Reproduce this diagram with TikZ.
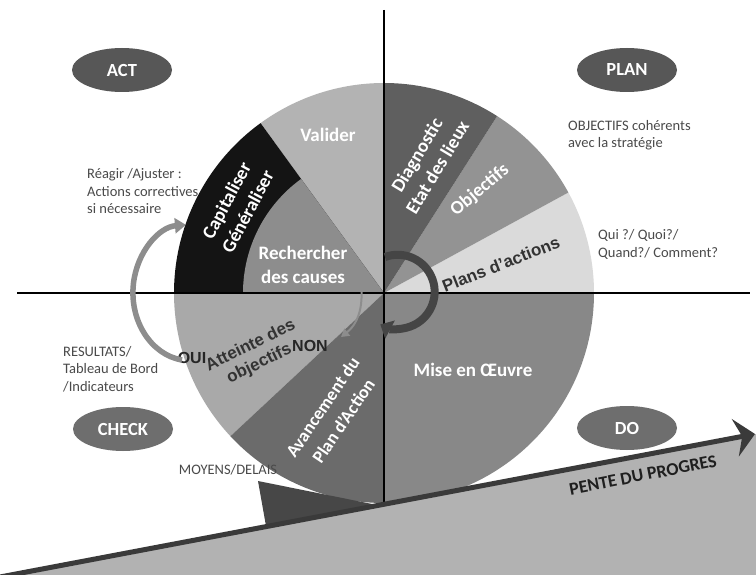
\documentclass[tikz,border=0pt]{standalone}
\usepackage{fontspec}
\setmainfont{Carlito}
\newfontfamily\arialf{Liberation Sans}
\usetikzlibrary{arrows.meta,shapes.geometric}
\definecolor{cPlans}{HTML}{DADADA}
\definecolor{cObj}{HTML}{939393}
\definecolor{cDiag}{HTML}{5F5F5F}
\definecolor{cVal}{HTML}{B3B3B3}
\definecolor{cCap}{HTML}{141414}
\definecolor{cRech}{HTML}{8D8D8D}
\definecolor{cAtt}{HTML}{A9A9A9}
\definecolor{cAvan}{HTML}{6B6B6B}
\definecolor{cMise}{HTML}{888888}
\definecolor{cRamp}{HTML}{B2B2B2}
\definecolor{cRampLine}{HTML}{3A3A3A}
\definecolor{cWedge}{HTML}{474747}
\definecolor{cPhaseA}{HTML}{575757}
\definecolor{cPhaseB}{HTML}{6E6E6E}
\definecolor{cNote}{HTML}{4A4A4A}
\definecolor{cDarkTxt}{HTML}{333333}
\definecolor{cArcGray}{HTML}{8D8D8D}
\definecolor{cArcDark}{HTML}{454545}
\begin{document}
\begin{tikzpicture}[x=1pt,y=-1pt,
  wlabel/.style={text=white,font=\bfseries\fontsize{19}{24}\selectfont,align=center,inner sep=0pt},
  note/.style={text=cNote,font=\fontsize{14.5}{17.5}\selectfont,align=left,anchor=west,inner sep=0pt},
  phase/.style={ellipse,minimum width=100pt,minimum height=44pt,text=white,font=\bfseries\fontsize{18.5}{20}\selectfont,inner sep=0pt},
  darktxt/.style={font=\arialf\bfseries\fontsize{17}{20}\selectfont,align=center,inner sep=0pt,text=cDarkTxt},
  axis/.style={line width=2.5pt,black},
]
\useasboundingbox (0,0) rectangle (756,575);
\fill[white] (0,0) rectangle (756,575);
\coordinate (O) at (384,293);
% ramp background
\coordinate (rampL) at (0,577);
\coordinate (rampR) at (755,434);
\fill[cRamp] (rampL) -- (756,434) -- (756,575) -- (0,575) -- cycle;
% wheel
\begin{scope}
\clip (0,0) -- (756,0) -- (756,434) -- (0,577) -- cycle;
\fill[cPlans] (O) -- ++(0:210) arc[start angle=0,end angle=-28.6,radius=210] -- cycle;
\fill[cObj] (O) -- ++(-28.6:210) arc[start angle=-28.6,end angle=-57.4,radius=210] -- cycle;
\fill[cDiag] (O) -- ++(-57.4:210) arc[start angle=-57.4,end angle=-90,radius=210] -- cycle;
\fill[cVal] (O) -- ++(-90:210) arc[start angle=-90,end angle=-126,radius=210] -- cycle;
\fill[cCap] (O) -- ++(-126:210) arc[start angle=-126,end angle=-180,radius=210] -- cycle;
\fill[cRech] (O) -- ++(-126:141) arc[start angle=-126,end angle=-180,radius=141] -- cycle;
\fill[cAtt] (O) -- ++(-180:210) arc[start angle=-180,end angle=-223,radius=210] -- cycle;
\fill[cAvan] (O) -- ++(-223:210) arc[start angle=-223,end angle=-270,radius=210] -- cycle;
\fill[cMise] (O) -- ++(90:210) arc[start angle=90,end angle=0,radius=210] -- cycle;
\end{scope}
% wedge under the wheel
\fill[cWedge] (258,481) -- (266,526) -- (377,505) -- cycle;
% axes
\coordinate (vTop) at (384,10);
\coordinate (vBot) at (384,504);
\coordinate (hL) at (17,293);
\coordinate (hR) at (750,293);
\draw[axis] (vTop) -- (vBot);
\draw[axis] (hL) -- (hR);
% ramp line with arrow
\draw[cRampLine,line width=5pt,-{Stealth[length=20pt,width=38pt,inset=7pt]}] (rampL) -- (rampR);
% phase ellipses
\node[phase,fill=cPhaseA] (act) at (122,70) {ACT};
\node[phase,fill=cPhaseA] (plan) at (627,70) {PLAN};
\node[phase,fill=cPhaseB] (check) at (123,429) {CHECK};
\node[phase,fill=cPhaseB] (do) at (627,428) {DO};
% wheel labels
\node[wlabel] (valider) at (328,135) {Valider};
\node[wlabel,rotate=62] (capit) at (237,206) {Capitaliser\\Généraliser};
\node[wlabel] (rech) at (303,265) {Rechercher\\des causes};
\node[wlabel,rotate=59] (diag) at (427,161) {Diagnostic\\Etat des lieux};
\node[wlabel,rotate=40] (objectifs) at (480,190) {Objectifs};
\node[wlabel] (mise) at (473,370) {Mise en Œuvre};
\node[wlabel,rotate=56,font=\bfseries\fontsize{18}{25}\selectfont] (avanc) at (333,414) {Avancement du\\Plan d’Action};
\node[darktxt,rotate=21.5] (plans) at (501,264) {Plans d’actions};
\node[darktxt,rotate=26] (atteinte) at (255,355) {Atteinte des\\objectifs};
\node[darktxt,text=black!85,font=\arialf\bfseries\fontsize{16}{18}\selectfont] (oui) at (192,358) {OUI};
\node[darktxt,text=black!85,font=\arialf\bfseries\fontsize{16}{18}\selectfont] (non) at (310,346) {NON};
% notes
\node[note] (objnote) at (568,135) {OBJECTIFS cohérents\\avec la stratégie};
\node[note] (quinote) at (598,244.5) {Qui ?/ Quoi?/\\Quand?/ Comment?};
\node[note] (reagir) at (87,191.5) {Réagir /Ajuster :\\Actions correctives\\si nécessaire};
\node[note] (result) at (63,369) {RESULTATS/\\Tableau de Bord\\/Indicateurs};
\node[note,anchor=center] (moyens) at (228,470) {MOYENS/DELAIS};
\node[text=black!88,font=\bfseries\fontsize{18}{20}\selectfont,rotate=11,inner sep=0pt] (pente) at (643,475) {PENTE DU PROGRES};
% curved arrows
\coordinate (arcLs) at (182,360);
\draw[cArcGray,line width=5.5pt,-{Triangle[length=11pt,width=15pt]}] (arcLs) arc[start angle=-262,end angle=-94,x radius=57,y radius=68];
\coordinate (arcCs) at (385,257);
\draw[cArcDark,line width=8pt,-{Triangle[length=11pt,width=20pt]}] (arcCs) arc[start angle=-110,end angle=118,x radius=37,y radius=37];
\coordinate (nonTop) at (358,268);
\coordinate (nonEnd) at (341,337);
\draw[cArcGray,line width=2pt,{Triangle[length=8pt,width=9pt]}-] (nonEnd) .. controls (360,322) and (366,300) .. (nonTop);
\end{tikzpicture}
\end{document}
